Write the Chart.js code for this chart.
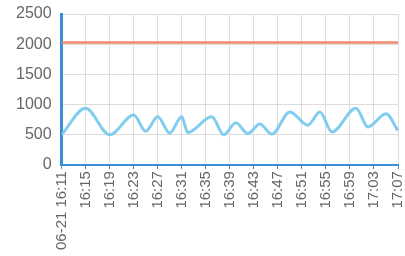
<!DOCTYPE html>
<html>
<head>
<meta charset="utf-8">
<script src="https://cdn.jsdelivr.net/npm/chart.js@4"></script>
<style>
  html, body { margin: 0; padding: 0; background: #fff; }
  #wrap { width: 405px; height: 256px; }
</style>
</head>
<body>
<div id="wrap"><canvas id="c"></canvas></div>
<script>
// Minute offsets from 06-21 16:11, one tick label every 4 minutes.
const xTickLabels = ['06-21 16:11', '16:15', '16:19', '16:23', '16:27', '16:31', '16:35',
  '16:39', '16:43', '16:47', '16:51', '16:55', '16:59', '17:03', '17:07'];

// Blue series (at its turning points).
const blueMinutes = [0, 4, 8, 12, 14, 16, 18, 20, 21, 25, 27, 29, 31, 33, 35, 38, 41, 43, 45, 49, 51, 54, 56];
const blueValues  = [500, 940, 500, 830, 560, 800, 530, 800, 540, 800, 500, 700, 520, 680, 510, 880, 660, 880, 550, 940, 630, 850, 570];

// Red reference line.
const redMinutes = [0, 56];
const redValues  = [2030, 2030];

const yTicks = [0, 500, 1000, 1500, 2000, 2500];

const axisBlue = '#3b8ed6';

function _pts(xs, ys) {
  return xs.map((x, i) => ({ x, y: ys[i] }));
}

new Chart(document.getElementById('c'), {
  type: 'line',
  data: {
    datasets: [
      {
        data: _pts(redMinutes, redValues),
        borderColor: '#f2896a',
        borderWidth: 2.5,
        pointRadius: 0,
        fill: false,
      },
      {
        data: _pts(blueMinutes, blueValues),
        borderColor: '#82ccf0',
        borderWidth: 3,
        pointRadius: 0,
        fill: false,
        cubicInterpolationMode: 'monotone',
      },
    ],
  },
  options: {
    responsive: true,
    maintainAspectRatio: false,
    animation: false,
    layout: { padding: { top: 14, right: 7, left: 6, bottom: 4 } },
    plugins: { legend: { display: false }, tooltip: { enabled: false } },
    scales: {
      x: {
        type: 'linear',
        min: 0,
        max: 56,
        border: { color: axisBlue, width: 2 },
        grid: { color: '#dcdcdc', tickColor: axisBlue, tickLength: 4 },
        afterFit: (s) => { s.paddingRight = 0; },
        ticks: {
          stepSize: 4,
          autoSkip: false,
          minRotation: 90,
          maxRotation: 90,
          color: '#666',
          font: { family: 'Liberation Sans, Arial', size: 15 },
          padding: 2,
          callback: (v) => xTickLabels[v / 4],
        },
      },
      y: {
        min: 0,
        max: 2500,
        border: { color: axisBlue, width: 3 },
        grid: { color: '#dcdcdc', drawTicks: false },
        afterFit: (s) => { s.paddingTop = 0; },
        ticks: {
          stepSize: 500,
          color: '#666',
          font: { family: 'Liberation Sans, Arial', size: 16 },
          padding: 10,
          callback: (v) => (yTicks.includes(v) ? v : null),
        },
      },
    },
  },
});
</script>
</body>
</html>
